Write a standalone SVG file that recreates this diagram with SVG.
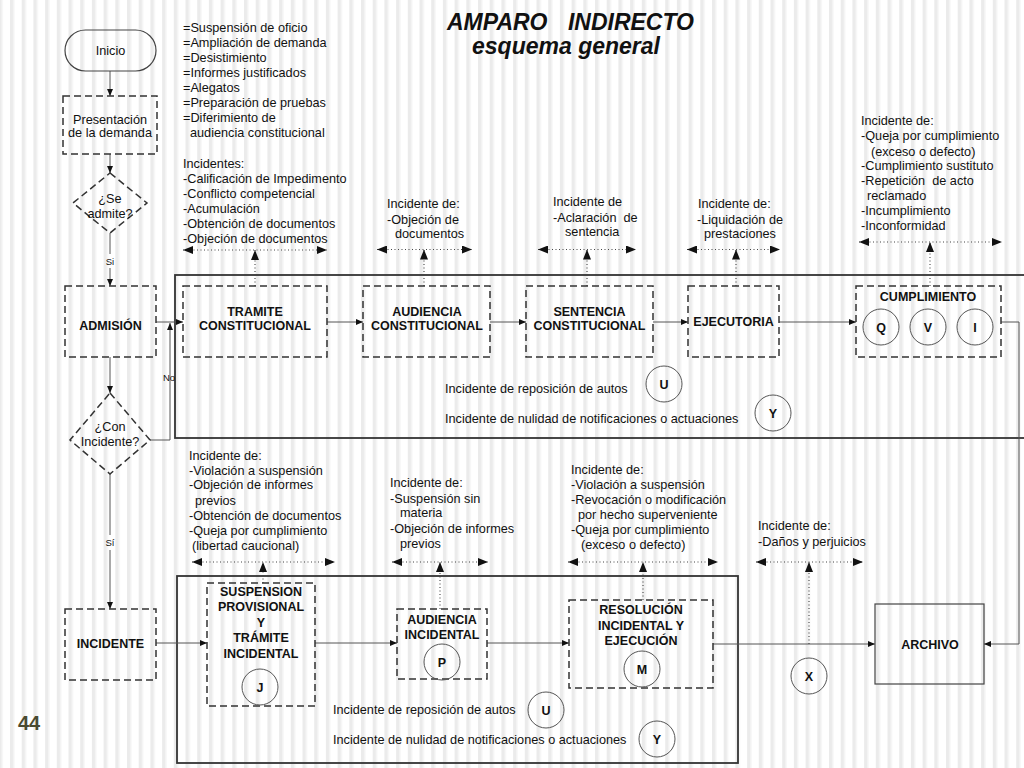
<svg xmlns="http://www.w3.org/2000/svg" width="1024" height="768" viewBox="0 0 1024 768">
<defs>
<pattern id="stripes" x="10" y="0" width="11.7" height="20" patternUnits="userSpaceOnUse">
<rect width="11.7" height="20" fill="#ffffff"/>
<rect x="0" width="3.5" height="20" fill="#ebebeb"/>
<rect x="3.5" width="1" height="20" fill="#f4f4f4"/>
</pattern>
<marker id="arr" markerUnits="userSpaceOnUse" markerWidth="7" markerHeight="6" refX="7" refY="3" orient="auto"><path d="M0,0 L7,3 L0,6 z" fill="#111"/></marker>
<marker id="da" markerUnits="userSpaceOnUse" markerWidth="10" markerHeight="8" refX="10" refY="4" orient="auto-start-reverse"><path d="M0,0 L10,4 L0,8 z" fill="#111"/></marker>
</defs>
<style>
text{font-family:"Liberation Sans",Arial,sans-serif;fill:#111}
.t{font-size:12.7px}
.s{font-size:9.5px}
.b{font-size:12.5px;font-weight:bold;text-anchor:middle}
.c{text-anchor:middle;font-size:12.7px}
.dash{fill:none;stroke:#333;stroke-width:1.5;stroke-dasharray:7 4}
.solid{fill:none;stroke:#444;stroke-width:1.2}
.circ{fill:none;stroke:#555;stroke-width:1}
.frame{fill:none;stroke:#333;stroke-width:1.8}
.flow{fill:none;stroke:#555;stroke-width:1}
.dot{fill:none;stroke:#444;stroke-width:1.1;stroke-dasharray:1 2.5}
</style>
<rect width="1024" height="768" fill="url(#stripes)"/>

<g id="title">
<text x="447" y="30" font-size="23" font-weight="bold" font-style="italic">AMPARO</text>
<text x="694" y="30" font-size="23" font-weight="bold" font-style="italic" text-anchor="end">INDIRECTO</text>
<text x="566" y="53.5" font-size="23" font-weight="bold" font-style="italic" text-anchor="middle">esquema general</text>
</g>

<g id="frames">
<rect class="frame" x="175" y="275" width="870" height="163"/>
<rect class="frame" x="177" y="576" width="561" height="187"/>
</g>

<g id="connectors">
<line class="flow" x1="110" y1="71" x2="110" y2="96" marker-end="url(#arr)"/>
<line class="flow" x1="110" y1="154" x2="110" y2="173" marker-end="url(#arr)"/>
<line class="flow" x1="110" y1="233" x2="110" y2="254"/>
<line class="flow" x1="110" y1="268" x2="110" y2="286" marker-end="url(#arr)"/>
<line class="flow" x1="110" y1="357" x2="110" y2="393" marker-end="url(#arr)"/>
<line class="flow" x1="110" y1="474" x2="110" y2="535"/>
<line class="flow" x1="110" y1="550" x2="110" y2="609" marker-end="url(#arr)"/>
<polyline class="flow" points="150,440 170,440 170,323" marker-end="url(#arr)"/>
<line class="flow" x1="156" y1="322" x2="183" y2="322" marker-end="url(#arr)"/>
<line class="flow" x1="327" y1="322" x2="363" y2="322" marker-end="url(#arr)"/>
<line class="flow" x1="490" y1="322" x2="526" y2="322" marker-end="url(#arr)"/>
<line class="flow" x1="653" y1="322" x2="688" y2="322" marker-end="url(#arr)"/>
<line class="flow" x1="779" y1="322" x2="856" y2="322" marker-end="url(#arr)"/>
<polyline class="flow" points="1001,322 1019,322 1019,644 984,644" marker-end="url(#arr)"/>
<line class="flow" x1="156" y1="643" x2="207" y2="643" marker-end="url(#arr)"/>
<line class="flow" x1="315" y1="643" x2="397" y2="643" marker-end="url(#arr)"/>
<line class="flow" x1="487" y1="643" x2="569" y2="643" marker-end="url(#arr)"/>
<line class="flow" x1="713" y1="644" x2="875" y2="644" marker-end="url(#arr)"/>
<line class="dot" x1="183" y1="250" x2="327" y2="250" marker-start="url(#da)" marker-end="url(#da)"/>
<line class="dot" x1="255" y1="286" x2="255" y2="250" marker-end="url(#da)"/>
<line class="dot" x1="377" y1="249.5" x2="472" y2="249.5" marker-start="url(#da)" marker-end="url(#da)"/>
<line class="dot" x1="424" y1="286" x2="424" y2="249.5" marker-end="url(#da)"/>
<line class="dot" x1="538" y1="249.5" x2="636" y2="249.5" marker-start="url(#da)" marker-end="url(#da)"/>
<line class="dot" x1="587" y1="286" x2="587" y2="249.5" marker-end="url(#da)"/>
<line class="dot" x1="687" y1="249.5" x2="780" y2="249.5" marker-start="url(#da)" marker-end="url(#da)"/>
<line class="dot" x1="736" y1="286" x2="736" y2="249.5" marker-end="url(#da)"/>
<line class="dot" x1="859" y1="242" x2="1002" y2="242" marker-start="url(#da)" marker-end="url(#da)"/>
<line class="dot" x1="930" y1="286" x2="930" y2="242" marker-end="url(#da)"/>
<line class="dot" x1="192" y1="562" x2="335" y2="562" marker-start="url(#da)" marker-end="url(#da)"/>
<line class="dot" x1="263" y1="583" x2="263" y2="562" marker-end="url(#da)"/>
<line class="dot" x1="392" y1="562" x2="488" y2="562" marker-start="url(#da)" marker-end="url(#da)"/>
<line class="dot" x1="440" y1="609" x2="440" y2="562" marker-end="url(#da)"/>
<line class="dot" x1="568" y1="562" x2="718" y2="562" marker-start="url(#da)" marker-end="url(#da)"/>
<line class="dot" x1="643" y1="600" x2="643" y2="562" marker-end="url(#da)"/>
<line class="dot" x1="756" y1="562" x2="863" y2="562" marker-start="url(#da)" marker-end="url(#da)"/>
<line class="dot" x1="809" y1="644" x2="809" y2="562" marker-end="url(#da)"/>
<text class="s" x="110" y="265" text-anchor="middle">Si</text>
<text class="s" x="110" y="546" text-anchor="middle">Sí</text>
<text class="s" x="163" y="381">No</text>
</g>

<g id="inicio">
<rect x="65" y="30" width="91" height="41" rx="20.5" class="solid" stroke="#333"/>
<text class="c" x="110.5" y="55">Inicio</text>
</g>
<g id="presentacion">
<rect class="dash" x="63" y="96" width="94" height="58"/>
<text class="c" x="110" y="124">Presentación</text>
<text class="c" x="110" y="137">de la demanda</text>
</g>
<g id="se-admite">
<polygon class="dash" points="110,173 147,203 110,233 73,203"/>
<text class="c" x="110" y="202.5">¿Se</text>
<text class="c" x="110" y="217.5">admite?</text>
</g>
<g id="admision">
<rect class="dash" x="65" y="286" width="91" height="71"/>
<text class="b" x="110.5" y="330">ADMISIÓN</text>
</g>
<g id="con-incidente">
<polygon class="dash" points="110,393 150,440 110,474 70,440"/>
<text class="c" x="110" y="430.5">¿Con</text>
<text class="c" x="110" y="446">Incidente?</text>
</g>
<g id="incidente">
<rect class="dash" x="65" y="609" width="91" height="71"/>
<text class="b" x="110.5" y="648">INCIDENTE</text>
</g>

<g id="tramite">
<rect class="dash" x="183" y="286" width="144" height="71"/>
<text class="b" x="255" y="316">TRAMITE</text>
<text class="b" x="255" y="330">CONSTITUCIONAL</text>
</g>
<g id="audiencia-constitucional">
<rect class="dash" x="363" y="286" width="127" height="71"/>
<text class="b" x="427" y="316">AUDIENCIA</text>
<text class="b" x="427" y="330">CONSTITUCIONAL</text>
</g>
<g id="sentencia">
<rect class="dash" x="526" y="286" width="127" height="71"/>
<text class="b" x="589.5" y="316">SENTENCIA</text>
<text class="b" x="589.5" y="330">CONSTITUCIONAL</text>
</g>
<g id="ejecutoria">
<rect class="dash" x="688" y="286" width="91" height="71"/>
<text class="b" x="733.5" y="326">EJECUTORIA</text>
</g>
<g id="cumplimiento">
<rect class="dash" x="856" y="286" width="145" height="71"/>
<text class="b" x="928" y="300.5">CUMPLIMIENTO</text>
<circle class="circ" cx="881" cy="327" r="18"/><text class="b" x="881" y="331.5">Q</text>
<circle class="circ" cx="928" cy="327" r="18"/><text class="b" x="928" y="331.5">V</text>
<circle class="circ" cx="975" cy="327" r="18"/><text class="b" x="975" y="331.5">I</text>
</g>
<g id="u-top"><circle class="circ" cx="664" cy="384" r="18"/><text class="b" x="664" y="388.5">U</text></g>
<g id="y-top"><circle class="circ" cx="773" cy="413" r="18"/><text class="b" x="773" y="417.5">Y</text></g>
<text class="t" x="445" y="392.5">Incidente de reposición de autos</text>
<text class="t" x="445" y="423">Incidente de nulidad de notificaciones o actuaciones</text>

<g id="suspension">
<rect class="dash" x="207" y="583" width="108" height="123"/>
<text class="b" x="261" y="596">SUSPENSION</text>
<text class="b" x="261" y="611">PROVISIONAL</text>
<text class="b" x="261" y="627">Y</text>
<text class="b" x="261" y="642">TRÁMITE</text>
<text class="b" x="261" y="657.5">INCIDENTAL</text>
<circle class="circ" cx="260" cy="687" r="18"/><text class="b" x="260" y="691.5">J</text>
</g>
<g id="audiencia-incidental">
<rect class="dash" x="397" y="609" width="90" height="70"/>
<text class="b" x="442" y="623.5">AUDIENCIA</text>
<text class="b" x="442" y="638.5">INCIDENTAL</text>
<circle class="circ" cx="442" cy="662" r="18"/><text class="b" x="442" y="666.5">P</text>
</g>
<g id="resolucion">
<rect class="dash" x="569" y="600" width="144" height="88"/>
<text class="b" x="641" y="614">RESOLUCIÓN</text>
<text class="b" x="641" y="629.5">INCIDENTAL Y</text>
<text class="b" x="641" y="644.5">EJECUCIÓN</text>
<circle class="circ" cx="642" cy="669" r="18"/><text class="b" x="642" y="673.5">M</text>
</g>
<g id="archivo">
<rect class="solid" x="875" y="604" width="109" height="80"/>
<text class="b" x="930" y="648.5">ARCHIVO</text>
</g>
<g id="x-node"><circle class="circ" cx="809" cy="676" r="18"/><text class="b" x="809" y="680.5">X</text></g>
<g id="u-bottom"><circle class="circ" cx="546" cy="710" r="18"/><text class="b" x="546" y="714.5">U</text></g>
<g id="y-bottom"><circle class="circ" cx="657" cy="739" r="18"/><text class="b" x="657" y="743.5">Y</text></g>
<text class="t" x="333" y="713.5">Incidente de reposición de autos</text>
<text class="t" x="333" y="743.5">Incidente de nulidad de notificaciones o actuaciones</text>

<g id="notes-top">
<text class="t" x="183" y="32">=Suspensión de oficio</text>
<text class="t" x="183" y="47">=Ampliación de demanda</text>
<text class="t" x="183" y="62">=Desistimiento</text>
<text class="t" x="183" y="77">=Informes justificados</text>
<text class="t" x="183" y="92">=Alegatos</text>
<text class="t" x="183" y="107">=Preparación de pruebas</text>
<text class="t" x="183" y="122">=Diferimiento de</text>
<text class="t" x="190" y="137">audiencia constitucional</text>
<text class="t" x="183" y="168">Incidentes:</text>
<text class="t" x="183" y="183">-Calificación de Impedimento</text>
<text class="t" x="183" y="198">-Conflicto competencial</text>
<text class="t" x="183" y="213">-Acumulación</text>
<text class="t" x="183" y="228">-Obtención de documentos</text>
<text class="t" x="183" y="243">-Objeción de documentos</text>

<text class="t" x="387" y="208">Incidente de:</text>
<text class="t" x="387" y="224">-Objeción de</text>
<text class="t" x="395" y="238">documentos</text>

<text class="t" x="553" y="206">Incidente de</text>
<text class="t" x="553" y="222" xml:space="preserve">-Aclaración  de</text>
<text class="t" x="565" y="236">sentencia</text>

<text class="t" x="698" y="208">Incidente de:</text>
<text class="t" x="697" y="224">-Liquidación de</text>
<text class="t" x="704" y="238">prestaciones</text>

<text class="t" x="861" y="124.5">Incidente de:</text>
<text class="t" x="861" y="140">-Queja por cumplimiento</text>
<text class="t" x="871" y="155.5">(exceso o defecto)</text>
<text class="t" x="861" y="170">-Cumplimiento sustituto</text>
<text class="t" x="861" y="185" xml:space="preserve">-Repetición  de acto</text>
<text class="t" x="867" y="200">reclamado</text>
<text class="t" x="861" y="214.5">-Incumplimiento</text>
<text class="t" x="861" y="229.5">-Inconformidad</text>
</g>

<g id="notes-bottom">
<text class="t" x="189" y="459.5">Incidente de:</text>
<text class="t" x="189" y="474.5">-Violación a suspensión</text>
<text class="t" x="189" y="489">-Objeción de informes</text>
<text class="t" x="195" y="504.5">previos</text>
<text class="t" x="189" y="519.5">-Obtención de documentos</text>
<text class="t" x="189" y="534.5">-Queja por cumplimiento</text>
<text class="t" x="192" y="550">(libertad caucional)</text>

<text class="t" x="390" y="487">Incidente de:</text>
<text class="t" x="390" y="503">-Suspensión sin</text>
<text class="t" x="400" y="517">materia</text>
<text class="t" x="390" y="533">-Objeción de informes</text>
<text class="t" x="400" y="548">previos</text>

<text class="t" x="571" y="474">Incidente de:</text>
<text class="t" x="571" y="488.5">-Violación a suspensión</text>
<text class="t" x="571" y="503.5">-Revocación o modificación</text>
<text class="t" x="578" y="518.5">por hecho superveniente</text>
<text class="t" x="571" y="534">-Queja por cumplimiento</text>
<text class="t" x="581" y="548.5">(exceso o defecto)</text>

<text class="t" x="758" y="530">Incidente de:</text>
<text class="t" x="758" y="545.5">-Daños y perjuicios</text>
</g>

<text x="18" y="730" font-size="20" font-weight="bold" style="fill:#4a4a30">44</text>
</svg>
